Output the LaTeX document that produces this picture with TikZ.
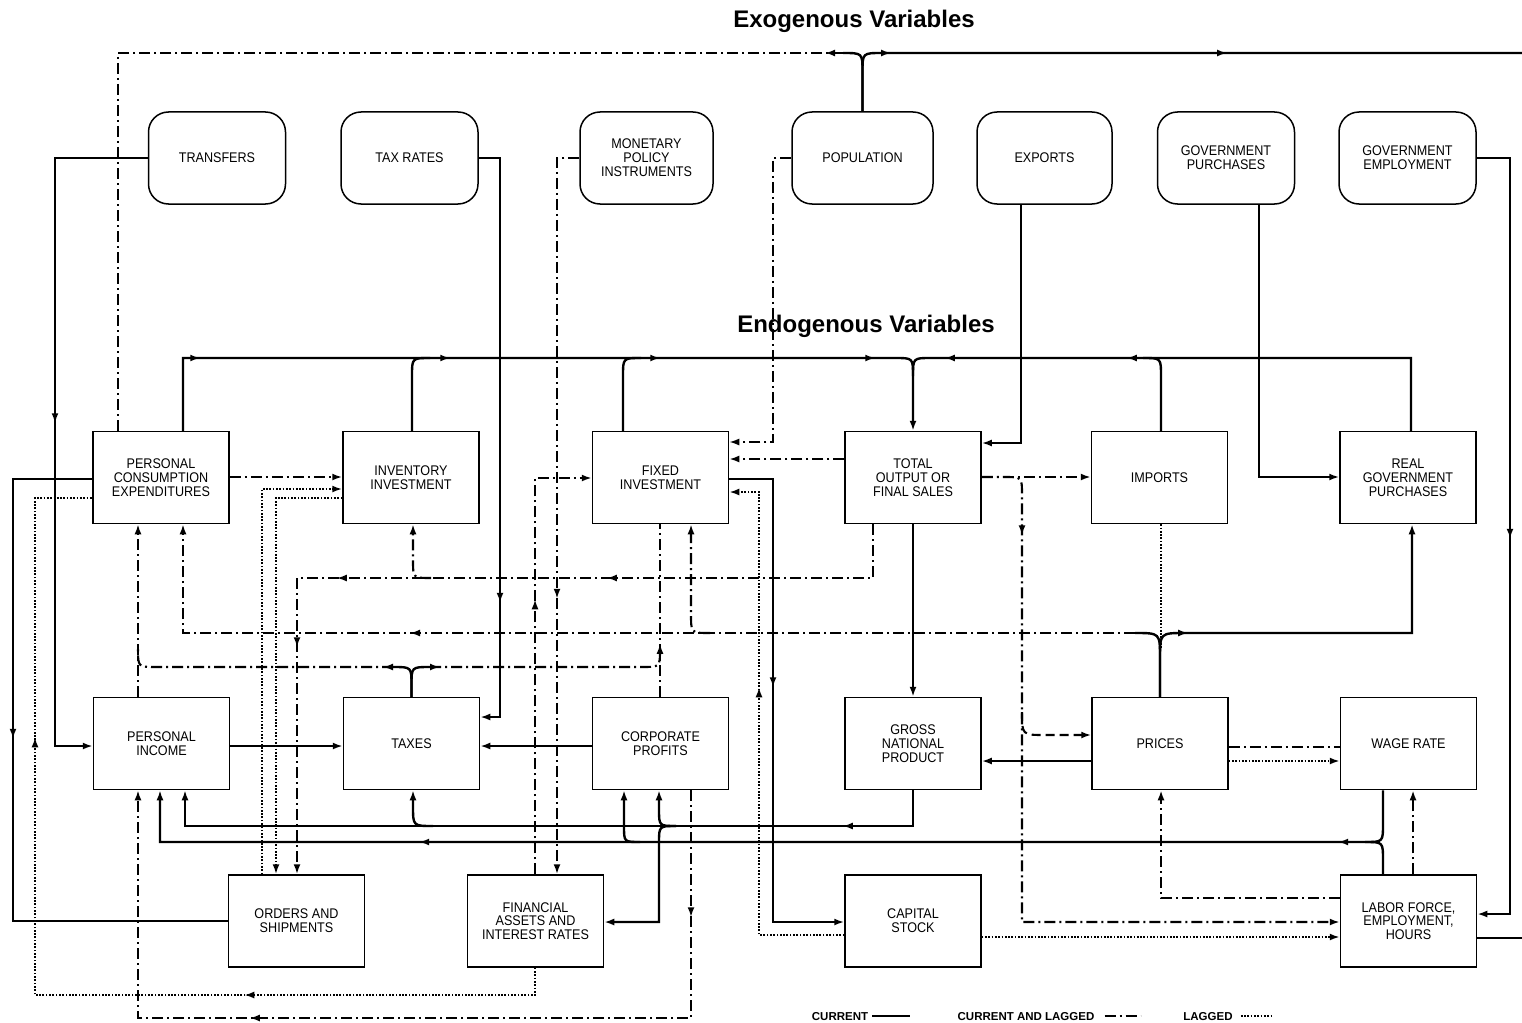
\documentclass[tikz,border=0pt]{standalone}
\usepackage{fontspec}
\setmainfont{Liberation Sans}
\newfontfamily\boxfont[FakeStretch=0.9]{Liberation Sans}
\usetikzlibrary{arrows.meta,decorations.markings}
\begin{document}
\begin{tikzpicture}[x=1pt,y=-1pt,
  >={Latex[length=10pt,width=7pt]},
  exo/.style={draw,line width=1.5pt,rounded corners=20pt,minimum width=137pt,minimum height=92pt,inner sep=0pt,align=center,font=\boxfont\fontsize{14}{14}\selectfont},
  endo/.style={draw,line width=1.5pt,minimum width=136pt,minimum height=92pt,inner sep=0pt,align=center,font=\boxfont\fontsize{14}{13.8}\selectfont},
  cur/.style={line width=2.4pt},
  cl/.style={line width=2.1pt,dash pattern=on 11pt off 4pt on 2pt off 4pt},
  lag/.style={line width=2.3pt,dash pattern=on 1.7pt off 1.6pt},
  dsh/.style={line width=2.1pt,dash pattern=on 9pt off 5pt},
  ma/.style={postaction={decorate,decoration={markings,mark=at position #1 with {\arrow{>}}}}},
  title/.style={font=\fontsize{24}{26}\selectfont\bfseries,inner sep=0pt,anchor=base},
  legend/.style={font=\fontsize{11.5}{12}\selectfont\bfseries,inner sep=0pt,anchor=base}
]
\fill[white] (0,0) rectangle (1522,1022);
\useasboundingbox (0,0) rectangle (1522,1022);

% titles
\node[title] (exoT) at (854,28) {Exogenous Variables};
\node[title] (endoT) at (866,332) {Endogenous Variables};

% exogenous
\node[exo] (tr) at (217,158) {TRANSFERS};
\node[exo] (tx) at (409.5,158) {TAX RATES};
\node[exo,minimum width=133pt] (mp) at (646.5,158) {MONETARY\\POLICY\\INSTRUMENTS};
\node[exo,minimum width=141pt] (pop) at (862.5,158) {POPULATION};
\node[exo,minimum width=135pt] (exp) at (1044.5,158) {EXPORTS};
\node[exo] (gp) at (1226,158) {GOVERNMENT\\PURCHASES};
\node[exo] (ge) at (1407.5,158) {GOVERNMENT\\EMPLOYMENT};

% endogenous row 1
\node[endo] (pce) at (161,477.5) {PERSONAL\\CONSUMPTION\\EXPENDITURES};
\node[endo] (inv) at (411,477.5) {INVENTORY\\INVESTMENT};
\node[endo] (fix) at (660.5,477.5) {FIXED\\INVESTMENT};
\node[endo] (tos) at (913,477.5) {TOTAL\\OUTPUT OR\\FINAL SALES};
\node[endo] (imp) at (1159.5,477.5) {IMPORTS};
\node[endo] (rgp) at (1408,477.5) {REAL\\GOVERNMENT\\PURCHASES};
% row 2
\node[endo] (pinc) at (161.5,743.5) {PERSONAL\\INCOME};
\node[endo] (tax) at (411.5,743.5) {TAXES};
\node[endo] (cp) at (660.5,743.5) {CORPORATE\\PROFITS};
\node[endo] (gnp) at (913,743.5) {GROSS\\NATIONAL\\PRODUCT};
\node[endo] (pr) at (1160,743.5) {PRICES};
\node[endo] (wr) at (1408.5,743.5) {WAGE RATE};
% row 3
\node[endo] (os) at (296.5,921) {ORDERS AND\\SHIPMENTS};
\node[endo] (fa) at (535.5,921) {FINANCIAL\\ASSETS AND\\INTEREST RATES};
\node[endo] (cs) at (913,921) {CAPITAL\\STOCK};
\node[endo] (lf) at (1408.5,921) {LABOR FORCE,\\EMPLOYMENT,\\HOURS};

\coordinate (edgeT) at (1522,53);
\coordinate (edgeB) at (1522,938);

% population junction
\draw[cur] (pop.north) -- (862.5,72) .. controls (862.5,53) .. (843,53);
\draw[cur,ma=83pt,ma=419pt] (pop.north) -- (862.5,72) .. controls (862.5,53) .. (882,53) -- (edgeT);
\draw[cl,ma=18pt] (843,53) -- (118,53) -- (pce.north -| 118,0);

% exogenous inputs
\draw[cur,->,ma=358pt] (tr.west) -- (55,158) -- (55,746) -- (pinc.west |- 0,746);
\draw[cur,->,ma=466pt] (tx.east) -- (500,158) -- (500,717) -- (tax.east |- 0,717);
\draw[cl,->,ma=463pt] (mp.west) -- (557,158) -- (fa.north -| 557,0);
\draw[cl,line width=1.7pt,->] (pop.west) -- (773,158) -- (773,442) -- (fix.east |- 0,442);
\draw[cur,->] (exp.south -| 1021,0) -- (1021,443) -- (tos.east |- 0,443);
\draw[cur,->] (gp.south -| 1259,0) -- (1259,477) -- (rgp.west |- 0,477);
\draw[cur,->,ma=414pt] (ge.east) -- (1510,158) -- (1510,914) -- (lf.east |- 0,914);
\draw[cur] (lf.east |- 0,938) -- (edgeB);

% top bus into total output
\draw[cur,->,ma=90pt,ma=340pt,ma=550pt,ma=765pt] (pce.north -| 183,0) -- (183,358) -- (895,358) .. controls (913,358) .. (913,376) -- (tos.north);
\draw[cur] (inv.north -| 412,0) -- (412,376) .. controls (412,358) .. (430,358);
\draw[cur] (fix.north -| 623,0) -- (623,376) .. controls (623,358) .. (641,358);
\draw[cur,ma=539pt,ma=357pt] (rgp.north -| 1411,0) -- (1411,358) -- (931,358) .. controls (913,358) .. (913,376);
\draw[cur] (imp.north -| 1161,0) -- (1161,376) .. controls (1161,358) .. (1143,358);

% row 1 horizontals
\draw[cl,->] (pce.east |- 0,477) -- (inv.west |- 0,477);
\draw[cl,->] (tos.west |- 0,459) -- (fix.east |- 0,459);
\draw[cl,->] (tos.east |- 0,477) -- (imp.west |- 0,477);
\draw[cl,->,ma=95pt] (tos.east |- 0,477) -- (1004,477) .. controls (1022,477) .. (1022,495) -- (1022,922) -- (lf.west |- 0,922);
\draw[dsh,->] (1022,712) .. controls (1022,735) .. (1045,735) -- (pr.west |- 0,735);

\draw[cur,->] (tos.south) -- (gnp.north);
\draw[cur,->] (pr.west |- 0,761) -- (gnp.east |- 0,761);

% fixed investment <-> capital stock
\draw[cur,->,ma=252pt] (fix.east |- 0,479) -- (773,479) -- (773,922) -- (cs.west |- 0,922);
\draw[lag,->,ma=333pt] (cs.west |- 0,935) -- (759,935) -- (759,492) -- (fix.east |- 0,492);
\draw[lag,->] (cs.east |- 0,937) -- (lf.west |- 0,937);

% prices junction
\draw[cur] (pr.north) -- (1160,658) .. controls (1160,633) .. (1135,633);
\draw[cur,->,ma=87pt] (pr.north) -- (1160,658) .. controls (1160,633) .. (1185,633) -- (1412,633) -- (rgp.south -| 1412,0);
\draw[cl,->,ma=725pt] (1135,633) -- (183,633) -- (pce.south -| 183,0);
\draw[cl,->] (710,633) .. controls (691,633) .. (691,614) -- (fix.south -| 691,0);
\draw[lag] (imp.south -| 1161,0) -- (1161,648);

% total output -> orders, inventory
\draw[cl,->,ma=320pt,ma=590pt,ma=699pt] (tos.south -| 873,0) -- (873,578) -- (297,578) -- (os.north -| 297,0);
\draw[cl,->] (431,578) .. controls (413,578) .. (413,560) -- (inv.south -| 413,0);

% taxes junction
\draw[cur] (tax.north) -- (411.5,685) .. controls (411.5,667) .. (393,667);
\draw[cur] (tax.north) -- (411.5,685) .. controls (411.5,667) .. (430,667);
\draw[cl,ma=10pt] (393,667) -- (156,667) .. controls (138,667) .. (138,649);
\draw[cl,ma=10pt] (430,667) -- (642,667) .. controls (660,667) .. (660,649);
\draw[cl,->] (pinc.north -| 138,0) -- (pce.south -| 138,0);
\draw[cl,ma=53pt] (cp.north -| 660,0) -- (fix.south -| 660,0);

% financial assets
\draw[cl,->,ma=275pt] (fa.north -| 535,0) -- (535,478) -- (fix.west |- 0,478);
\draw[lag,ma=318pt,ma=785pt] (fa.south -| 535,0) -- (535,995) -- (35,995) -- (35,498) -- (pce.west |- 0,498);

% orders <-> inventory
\draw[lag,->] (os.north -| 262,0) -- (262,489) -- (inv.west |- 0,489);
\draw[lag,->] (inv.west |- 0,498) -- (276,498) -- (os.north -| 276,0);

% PCE -> orders
\draw[cur,ma=339pt] (pce.west |- 0,479) -- (13,479) -- (13,921) -- (os.west);

% corporate profits -> personal income
\draw[cl,->,ma=127pt,ma=669pt] (cp.south -| 691,0) -- (691,1018) -- (138,1018) -- (pinc.south -| 138,0);

% taxes inputs
\draw[cur,->] (pinc.east |- 0,746) -- (tax.west |- 0,746);
\draw[cur,->] (cp.west |- 0,746) -- (tax.east |- 0,746);

% GNP bus
\draw[cur,->,ma=106pt] (gnp.south) -- (913,826) -- (185,826) -- (pinc.south -| 185,0);
\draw[cur,->] (433,826) .. controls (413,826) .. (413,806) -- (tax.south -| 413,0);
\draw[cur,->] (676,826) .. controls (659,826) .. (659,809) -- (cp.south -| 659,0);
\draw[cur,->] (676,826) .. controls (659,826) .. (659,843) -- (659,922) -- (fa.east |- 0,922);

% wage bus
\draw[cur,->,ma=93pt,ma=1012pt] (wr.south -| 1383,0) -- (1383,824) .. controls (1383,842) .. (1365,842) -- (160,842) -- (pinc.south -| 160,0);
\draw[cur] (lf.north -| 1383,0) -- (1383,860) .. controls (1383,842) .. (1365,842);
\draw[cur,->] (640,842) .. controls (624,842) .. (624,826) -- (cp.south -| 624,0);

% prices <-> wages, labor
\draw[cl] (pr.east |- 0,747) -- (wr.west |- 0,747);
\draw[lag,->] (pr.east |- 0,761) -- (wr.west |- 0,761);
\draw[cl,->] (lf.west |- 0,898) -- (1161,898) -- (pr.south -| 1161,0);
\draw[cl,->] (lf.north -| 1413,0) -- (wr.south -| 1413,0);

% legend
\node[legend] (lgC) at (840,1020) {CURRENT};
\node[legend] (lgCL) at (1026,1020) {CURRENT AND LAGGED};
\node[legend] (lgL) at (1208,1020) {LAGGED};
\draw[cur] ([xshift=4pt,yshift=4pt]lgC.base east) -- ++(38,0);
\draw[cl] ([xshift=10pt,yshift=4pt]lgCL.base east) -- ++(36,0);
\draw[lag,line width=1.7pt] ([xshift=8pt,yshift=4pt]lgL.base east) -- ++(30,0);
\end{tikzpicture}
\end{document}
